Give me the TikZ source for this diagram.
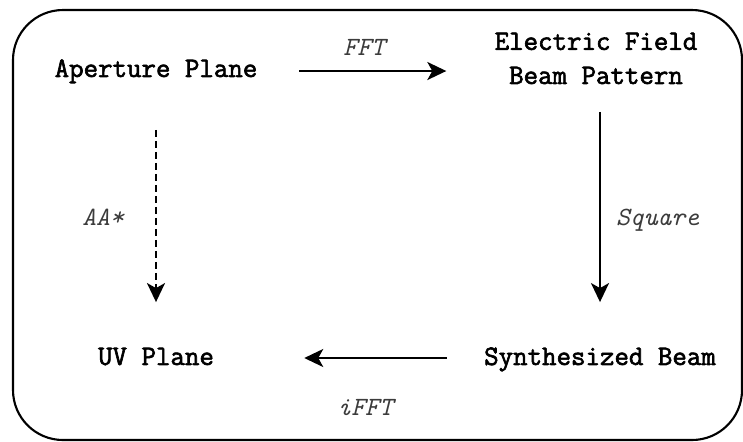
\documentclass[tikz,border=0pt]{standalone}
\usepackage{fontspec}
\newfontfamily\planefont[FakeBold=2.2]{Latin Modern Mono}
\usepackage{tikz}
\usetikzlibrary{arrows.meta, positioning}
\definecolor{mydark}{RGB}{0,0,0}
\definecolor{mygrey}{RGB}{60,60,60}
\tikzset{
  plane/.style={inner sep=0pt, align=center, text height=0.6em, text depth=0.15em,
    font=\fontsize{16}{19.4}\selectfont\planefont},
  oplabel/.style={inner sep=0pt, text=mygrey, font=\fontsize{15}{17}\selectfont\ttfamily\itshape},
  arrow/.style={-{Stealth[length=0.38cm, width=0.36cm, inset=0.1cm]}, line width=1.3pt, color=mydark},
  dasharrow/.style={arrow, dash pattern=on 0.14cm off 0.08cm},
  frame/.style={line width=1.2pt, rounded corners=1cm}
}
\begin{document}
\begin{tikzpicture}[x=0.02cm, y=-0.02cm]
  \useasboundingbox (0,0) rectangle (743,441);
  % Frame
  \draw[frame] (13,10) rectangle (742,440);

  % Planes
  \node[plane] (ap) at (156, 73) {Aperture Plane};
  \node[plane] (ef) at (596, 80) {Electric Field\\Beam Pattern};
  \node[plane] (uv) at (156, 361) {UV Plane};
  \node[plane] (sb) at (600, 361) {Synthesized Beam};

  % Transforms
  \draw[arrow, shorten <=0.83cm, shorten >=0.96cm] ([yshift=0.04cm]ap.east) -- ([yshift=0.04cm]ap.east -| ef.west)
    node[oplabel, pos=0.45, above=0.28cm] (fft) {FFT};
  \draw[arrow, shorten <=0.5cm, shorten >=1.04cm] (ef.south -| sb.north) -- (sb.north)
    node[oplabel, midway, right=0.3cm] (sq) {Square};
  \draw[arrow, shorten <=0.74cm, shorten >=1.8cm] ([yshift=0.06cm]sb.west) -- ([yshift=0.06cm]sb.west -| uv.east)
    node[oplabel, pos=0.44, below=0.8cm] (ifft) {iFFT};
  \draw[dasharrow, shorten <=1cm, shorten >=1.04cm] (ap.south) -- (uv.north)
    node[oplabel, midway, left=0.62cm] (aa) {AA*};
\end{tikzpicture}
\end{document}
